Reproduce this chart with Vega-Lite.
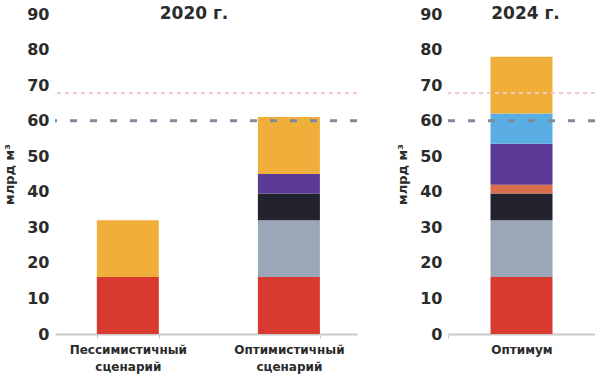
{
  "$schema": "https://vega.github.io/schema/vega-lite/v6.json",
  "padding": {"left": 3, "right": 0, "top": 5, "bottom": 2},
  "background": "white",
  "spacing": 37,
  "datasets": {
    "d2020": [
      {"scenario": "Пессимистичный сценарий", "component": "c1", "ord": 1, "value": 16},
      {"scenario": "Пессимистичный сценарий", "component": "c7", "ord": 7, "value": 16},
      {"scenario": "Оптимистичный сценарий", "component": "c1", "ord": 1, "value": 16},
      {"scenario": "Оптимистичный сценарий", "component": "c2", "ord": 2, "value": 16},
      {"scenario": "Оптимистичный сценарий", "component": "c3", "ord": 3, "value": 7.5},
      {"scenario": "Оптимистичный сценарий", "component": "c5", "ord": 5, "value": 5.5},
      {"scenario": "Оптимистичный сценарий", "component": "c7", "ord": 7, "value": 16}
    ],
    "d2024": [
      {"scenario": "Оптимум", "component": "c1", "ord": 1, "value": 16},
      {"scenario": "Оптимум", "component": "c2", "ord": 2, "value": 16},
      {"scenario": "Оптимум", "component": "c3", "ord": 3, "value": 7.5},
      {"scenario": "Оптимум", "component": "c4", "ord": 4, "value": 2.5},
      {"scenario": "Оптимум", "component": "c5", "ord": 5, "value": 11.5},
      {"scenario": "Оптимум", "component": "c6", "ord": 6, "value": 8.5},
      {"scenario": "Оптимум", "component": "c7", "ord": 7, "value": 16}
    ]
  },
  "config": {
    "view": {"stroke": null},
    "font": "DejaVu Sans",
    "axisX": {
      "domainColor": "#c9c9c9", "domainWidth": 2, "ticks": true, "tickBand": "extent",
      "tickColor": "#c9c9c9", "tickSize": 4, "labelFontSize": 12, "labelFontWeight": "bold",
      "labelColor": "#2b2b2b", "labelPadding": 6, "labelAngle": 0, "labelLineHeight": 17, "title": null, "grid": false
    },
    "axisY": {
      "domain": false, "ticks": false, "grid": false, "labelFontSize": 16, "labelFontWeight": "bold",
      "labelColor": "#2b2b2b", "labelPadding": 6, "titleFontSize": 13, "titleFontWeight": "bold",
      "titleColor": "#2b2b2b", "titlePadding": 10, "values": [0, 10, 20, 30, 40, 50, 60, 70, 80, 90]
    },
    "title": {"fontSize": 17, "fontWeight": "bold", "color": "#2b2b2b"}
  },
  "hconcat": [
    {
      "width": 302, "height": 320,
      "title": {"text": "2020 г.", "dx": -12, "frame": "group", "baseline": "alphabetic", "offset": -30},
      "layer": [
        {
          "data": {"name": "d2020"},
          "mark": {"type": "bar"},
          "encoding": {
            "x": {"field": "scenario", "type": "nominal", "sort": ["Пессимистичный сценарий", "Оптимистичный сценарий"],
                  "scale": {"paddingInner": 0.615, "paddingOuter": 0.245, "align": 0.53},
                  "axis": {"labelExpr": "split(datum.label, ' ')"}},
            "y": {"field": "value", "type": "quantitative", "stack": "zero", "scale": {"domain": [0, 90]}, "title": "млрд м³"},
            "color": {"field": "component", "type": "nominal", "legend": null,
                      "scale": {"domain": ["c1", "c2", "c3", "c4", "c5", "c6", "c7"],
                                "range": ["#d83a30", "#9ba7b6", "#23232f", "#d96e4c", "#5b3a98", "#5aaee3", "#f0ae3b"]}},
            "order": {"field": "ord", "type": "quantitative"}
          }
        },
        {
          "data": {"values": [{"level": 67.8}]},
          "mark": {"type": "rule", "color": "#f2caca", "strokeWidth": 2, "strokeDash": [4, 4]},
          "encoding": {"y": {"field": "level", "type": "quantitative"}}
        },
        {
          "data": {"values": [{"level": 60}]},
          "mark": {"type": "rule", "color": "#7f8a9a", "strokeWidth": 3, "strokeDash": [7, 13]},
          "encoding": {"y": {"field": "level", "type": "quantitative"}}
        }
      ]
    },
    {
      "width": 147, "height": 320,
      "title": {"text": "2024 г.", "dx": 4, "frame": "group", "baseline": "alphabetic", "offset": -30},
      "layer": [
        {
          "data": {"name": "d2024"},
          "mark": {"type": "bar", "width": 62},
          "encoding": {
            "x": {"field": "scenario", "type": "nominal",
                  "scale": {"paddingInner": 0, "paddingOuter": 0}},
            "y": {"field": "value", "type": "quantitative", "stack": "zero", "scale": {"domain": [0, 90]}, "title": "млрд м³"},
            "color": {"field": "component", "type": "nominal", "legend": null,
                      "scale": {"domain": ["c1", "c2", "c3", "c4", "c5", "c6", "c7"],
                                "range": ["#d83a30", "#9ba7b6", "#23232f", "#d96e4c", "#5b3a98", "#5aaee3", "#f0ae3b"]}},
            "order": {"field": "ord", "type": "quantitative"}
          }
        },
        {
          "data": {"values": [{"level": 67.8}]},
          "mark": {"type": "rule", "color": "#f2caca", "strokeWidth": 2, "strokeDash": [4, 4]},
          "encoding": {"y": {"field": "level", "type": "quantitative"}}
        },
        {
          "data": {"values": [{"level": 60}]},
          "mark": {"type": "rule", "color": "#7f8a9a", "strokeWidth": 3, "strokeDash": [7, 13]},
          "encoding": {"y": {"field": "level", "type": "quantitative"}}
        }
      ]
    }
  ]
}
